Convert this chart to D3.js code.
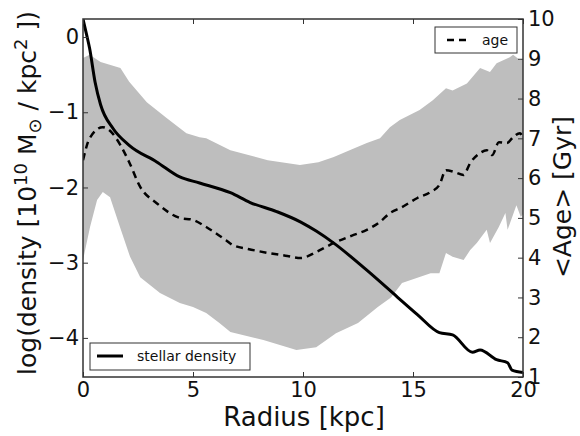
<!DOCTYPE html>
<html>
<head>
<meta charset="utf-8">
<script src="https://cdn.jsdelivr.net/npm/d3@7"></script>
<style>
  body { margin: 0; background: #fff; }
  svg { display: block; }
  text { font-family: "DejaVu Sans", sans-serif; fill: #111; }
</style>
</head>
<body>
<svg id="chart" width="580" height="436"></svg>
<script>
// Radial profiles: stellar density (left axis, log)
// and mean stellar age with its spread (right axis, Gyr).
const densityR = [0, 0.15, 0.3, 0.55, 0.8, 1.35, 2.1, 3.35, 4.4, 5.3, 6.7, 7.6, 8.8, 9.9, 10.6, 11.4, 12.9, 14.3, 15.2, 16.2, 16.8, 17.7, 18.05, 18.8, 19.3, 19.5, 20];
const densityVals = [0.24, 0.05, -0.15, -0.6, -0.9, -1.21, -1.44, -1.66, -1.86, -1.94, -2.07, -2.2, -2.32, -2.46, -2.58, -2.74, -3.1, -3.46, -3.69, -3.93, -3.96, -4.19, -4.16, -4.29, -4.33, -4.43, -4.46];

const ageR = [0, 0.3, 0.9, 1.3, 1.7, 2.1, 2.6, 3.35, 4.4, 5.0, 5.6, 6.5, 6.8, 7.5, 8.4, 9.2, 9.9, 10.6, 11.4, 12.2, 12.9, 13.5, 13.95, 14.5, 15.2, 15.8, 16.2, 16.5, 16.9, 17.3, 17.6, 18.05, 18.35, 18.6, 18.9, 19.27, 19.55, 19.86, 20];
const ageVals = [6.45, 7.0, 7.28, 7.15, 6.83, 6.4, 5.78, 5.37, 5.0, 4.95, 4.77, 4.44, 4.32, 4.22, 4.12, 4.05, 3.99, 4.14, 4.37, 4.55, 4.7, 4.9, 5.12, 5.27, 5.5, 5.65, 5.83, 6.2, 6.15, 6.08, 6.38, 6.63, 6.7, 6.58, 6.9, 6.88, 7.03, 7.13, 7.0];

const bandUpR = [0, 0.3, 0.8, 1.7, 2.1, 2.9, 3.8, 4.7, 5.3, 5.6, 6.7, 8.4, 9.86, 10.7, 11.4, 12.2, 12.9, 13.5, 13.95, 14.4, 15.3, 15.9, 16.5, 16.8, 17.45, 18.05, 18.5, 18.8, 19.4, 19.55, 19.86, 20];
const bandUpVals = [9.02, 9.1, 8.92, 8.77, 8.42, 7.91, 7.51, 7.13, 7.03, 7.0, 6.7, 6.45, 6.33, 6.4, 6.53, 6.72, 6.88, 7.0, 7.28, 7.46, 7.71, 7.96, 8.26, 8.2, 8.38, 8.77, 8.67, 8.89, 9.04, 9.1, 8.97, 9.0];

const bandLowR = [0, 0.32, 0.64, 0.9, 1.23, 1.68, 2.14, 2.6, 3.5, 4.4, 5.0, 5.6, 6.2, 6.7, 8.2, 9.7, 10.6, 11.5, 12.5, 13.4, 14.0, 14.5, 15.8, 16.2, 16.5, 16.8, 17.3, 17.6, 17.9, 18.35, 18.5, 18.9, 19.2, 19.3, 19.7, 19.9, 20];
const bandLowVals = [3.94, 4.77, 5.45, 5.65, 5.52, 4.77, 4.02, 3.51, 3.11, 2.86, 2.76, 2.61, 2.36, 2.13, 1.93, 1.68, 1.75, 2.1, 2.36, 2.76, 3.0, 3.36, 3.61, 3.61, 4.12, 4.02, 3.94, 4.19, 4.37, 4.7, 4.37, 4.77, 5.12, 4.7, 5.32, 5.02, 5.1];

const xTicks = [0, 5, 10, 15, 20];
const densityTicks = [0, -1, -2, -3, -4];
const ageTicks = [1, 2, 3, 4, 5, 6, 7, 8, 9, 10];

const svg = d3.select("#chart");
const mLeft = 83, mRight = 523, mTop = 19, mBottom = 377;

const x = d3.scaleLinear().domain([0, 20]).range([mLeft, mRight]);
const yDen = d3.scaleLinear().domain([-4.52, 0.24]).range([mBottom, mTop]);
const yAge = d3.scaleLinear().domain([1, 10]).range([mBottom, mTop]);

svg.append("defs").append("clipPath").attr("id", "plot")
    .append("rect").attr("x", mLeft).attr("y", mTop)
    .attr("width", mRight - mLeft).attr("height", mBottom - mTop);

const plot = svg.append("g").attr("clip-path", "url(#plot)");

// Spread of ages: upper edge left to right, then lower edge back.
const bandPts = bandUpR.map((r, i) => [r, bandUpVals[i]])
    .concat(bandLowR.map((r, i) => [r, bandLowVals[i]]).reverse());
plot.append("path")
    .attr("d", d3.line().x(d => x(d[0])).y(d => yAge(d[1]))(bandPts) + "Z")
    .attr("fill", "#bebebe");

plot.append("path")
    .datum(densityR.map((r, i) => [r, densityVals[i]]))
    .attr("d", d3.line().curve(d3.curveMonotoneX).x(d => x(d[0])).y(d => yDen(d[1])))
    .attr("fill", "none").attr("stroke", "#000").attr("stroke-width", 3)
    .attr("stroke-linejoin", "round");

plot.append("path")
    .datum(ageR.map((r, i) => [r, ageVals[i]]))
    .attr("d", d3.line().curve(d3.curveMonotoneX).x(d => x(d[0])).y(d => yAge(d[1])))
    .attr("fill", "none").attr("stroke", "#000").attr("stroke-width", 2.5)
    .attr("stroke-dasharray", "7,5");

// Axes: inward ticks, matplotlib style.
const tickLen = 5;
const xAxisB = svg.append("g").attr("transform", `translate(0,${mBottom})`)
    .call(d3.axisBottom(x).tickValues(xTicks).tickSize(-tickLen).tickPadding(5));
const xAxisT = svg.append("g").attr("transform", `translate(0,${mTop})`)
    .call(d3.axisTop(x).tickValues(xTicks).tickSize(-tickLen).tickFormat(""));
const yAxisL = svg.append("g").attr("transform", `translate(${mLeft},0)`)
    .call(d3.axisLeft(yDen).tickValues(densityTicks).tickSize(-tickLen).tickPadding(4)
        .tickFormat(d => d < 0 ? "\u2212" + Math.abs(d) : d));
const yAxisR = svg.append("g").attr("transform", `translate(${mRight},0)`)
    .call(d3.axisRight(yAge).tickValues(ageTicks).tickSize(-tickLen).tickPadding(5));

[xAxisB, xAxisT, yAxisL, yAxisR].forEach(a => {
    a.select(".domain").remove();
    a.selectAll("line").attr("stroke", "#333").attr("stroke-width", 1);
    a.selectAll("text").attr("font-size", 21).attr("font-family", "DejaVu Sans").attr("fill", "#111");
});

svg.append("rect").attr("x", mLeft).attr("y", mTop)
    .attr("width", mRight - mLeft).attr("height", mBottom - mTop)
    .attr("fill", "none").attr("stroke", "#333").attr("stroke-width", 1.5);

// Axis titles
svg.append("text").attr("x", (mLeft + mRight) / 2 + 1).attr("y", 426)
    .attr("text-anchor", "middle").attr("font-size", 26).text("Radius [kpc]");

const yl = svg.append("text").attr("transform", "translate(36,193) rotate(-90)")
    .attr("text-anchor", "middle").attr("font-size", 25);
yl.append("tspan").text("log(density [10");
yl.append("tspan").attr("font-size", 18).attr("dy", -9).text("10");
yl.append("tspan").attr("dy", 9).text(" M");
yl.append("tspan").attr("font-size", 18).attr("dy", 5).text("\u2299");
yl.append("tspan").attr("dy", -5).text(" / kpc");
yl.append("tspan").attr("font-size", 18).attr("dy", -9).text("2");
yl.append("tspan").attr("dy", 9).text(" ])");

svg.append("text").attr("transform", "translate(571,197) rotate(-90)")
    .attr("text-anchor", "middle").attr("font-size", 25).text("<Age> [Gyr]");

// Legends
const legAge = svg.append("g");
legAge.append("rect").attr("x", 435).attr("y", 27).attr("width", 82).attr("height", 26)
    .attr("fill", "#fff").attr("stroke", "#333").attr("stroke-width", 1);
legAge.append("line").attr("x1", 447).attr("x2", 469).attr("y1", 40).attr("y2", 40)
    .attr("stroke", "#000").attr("stroke-width", 2.5).attr("stroke-dasharray", "7,5");
legAge.append("text").attr("x", 482).attr("y", 45).attr("font-size", 14).text("age");

const legDen = svg.append("g");
legDen.append("rect").attr("x", 90).attr("y", 343).attr("width", 160).attr("height", 27)
    .attr("fill", "#fff").attr("stroke", "#333").attr("stroke-width", 1);
legDen.append("line").attr("x1", 97).attr("x2", 123).attr("y1", 356).attr("y2", 356)
    .attr("stroke", "#000").attr("stroke-width", 3);
legDen.append("text").attr("x", 137).attr("y", 361).attr("font-size", 14).text("stellar density");
</script>
</body>
</html>
